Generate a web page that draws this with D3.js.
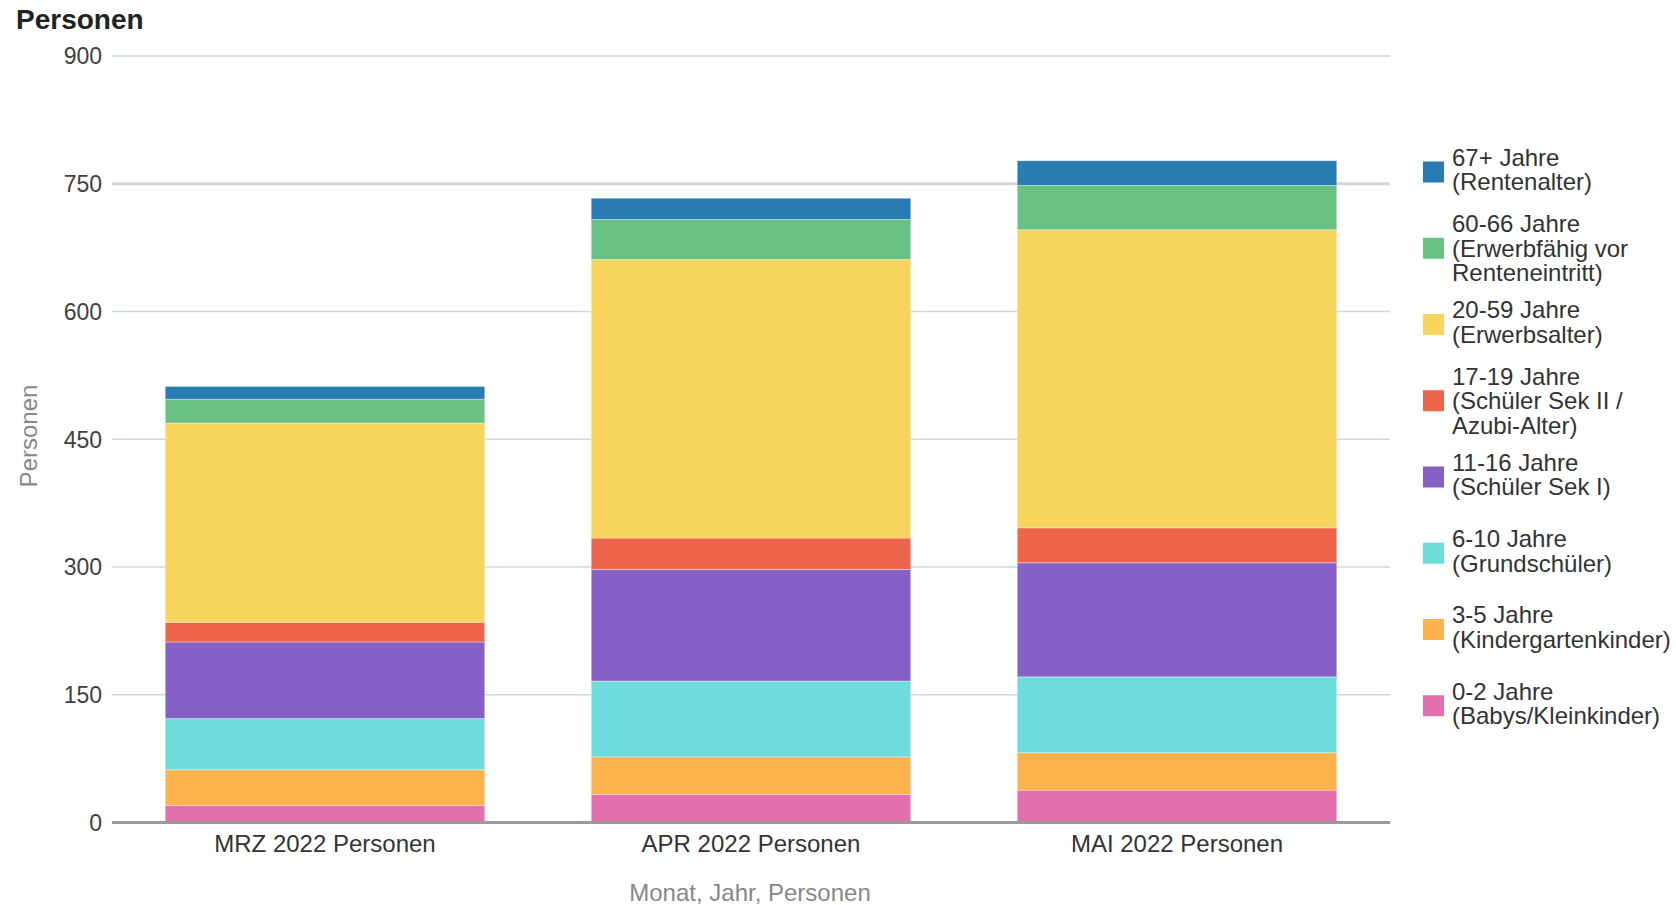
<!DOCTYPE html>
<html>
<head>
<meta charset="utf-8">
<script src="https://d3js.org/d3.v7.min.js"></script>
<style>
  body { margin: 0; background: #fff; }
  svg { font-family: "Liberation Sans", Arial, sans-serif; }
</style>
</head>
<body>
<svg id="chart" width="1676" height="905"></svg>
<script>
// data
var months = ["MRZ 2022 Personen", "APR 2022 Personen", "MAI 2022 Personen"]
var groups = ["0-2", "3-5", "6-10", "11-16", "17-19", "20-59", "60-66", "67+"]
var babys    = [20, 33, 38]
var kita     = [42, 44, 44]
var grund    = [60, 89, 89]
var sek1     = [90, 131, 134]
var sek2     = [23, 37, 41]
var erwerb   = [234, 327, 350]
var vorRente = [28, 47, 52]
var rente    = [15, 25, 29]
var yTicks = [0, 150, 300, 450, 600, 750, 900]
var referenceValue = 750

var legendLabels = [
  ["67+ Jahre", "(Rentenalter)"],
  ["60-66 Jahre", "(Erwerbfähig vor", "Renteneintritt)"],
  ["20-59 Jahre", "(Erwerbsalter)"],
  ["17-19 Jahre", "(Schüler Sek II /", "Azubi-Alter)"],
  ["11-16 Jahre", "(Schüler Sek I)"],
  ["6-10 Jahre", "(Grundschüler)"],
  ["3-5 Jahre", "(Kindergartenkinder)"],
  ["0-2 Jahre", "(Babys/Kleinkinder)"]
]

var colors = {
  "0-2": "#e26fb0", "3-5": "#fdb24e", "6-10": "#6edcdc", "11-16": "#8661c5",
  "17-19": "#ec654a", "20-59": "#f7d55c", "60-66": "#69c184", "67+": "#287cb1"
}

var series = [babys, kita, grund, sek1, sek2, erwerb, vorRente, rente]
var data = months.map(function(m, i) {
  var row = { month: m }
  groups.forEach(function(g, j) { row[g] = series[j][i] })
  return row
})

var svg = d3.select("#chart")
var plotLeft = 112, plotRight = 1390, plotTop = 56, plotBottom = 822.5

var x = d3.scaleBand().domain(months).range([plotLeft, plotRight])
  .paddingInner(0.25).paddingOuter(0.125)
var y = d3.scaleLinear().domain([0, 900]).range([plotBottom, plotTop])

// gridlines
svg.append("g").selectAll("line")
  .data(yTicks.filter(function(t) { return t > 0 }))
  .enter().append("line")
  .attr("x1", plotLeft).attr("x2", plotRight)
  .attr("y1", function(d) { return y(d) }).attr("y2", function(d) { return y(d) })
  .attr("stroke", "#cfd7e0")
  .attr("stroke-width", function(d) { return d === referenceValue ? 3 : 1.5 })

// tick labels
svg.append("g").selectAll("text")
  .data(yTicks).enter().append("text")
  .attr("x", 102).attr("y", function(d) { return y(d) })
  .attr("dy", "0.36em")
  .attr("text-anchor", "end")
  .attr("font-size", 23)
  .attr("fill", "#404040")
  .text(function(d) { return d })

// stacked bars
var stack = d3.stack().keys(groups)(data)
svg.append("g").selectAll("g")
  .data(stack).enter().append("g")
  .attr("fill", function(d) { return colors[d.key] })
  .selectAll("rect")
  .data(function(d) { return d }).enter().append("rect")
  .attr("x", function(d) { return x(d.data.month) })
  .attr("width", x.bandwidth())
  .attr("y", function(d) { return y(d[1]) })
  .attr("height", function(d) { return y(d[0]) - y(d[1]) })
  .attr("stroke", "#fff")
  .attr("stroke-opacity", 0.35)
  .attr("stroke-width", 1)

// baseline
svg.append("line")
  .attr("x1", plotLeft).attr("x2", plotRight)
  .attr("y1", y(0)).attr("y2", y(0))
  .attr("stroke", "#9a9a9a").attr("stroke-width", 3)

// category labels
svg.append("g").selectAll("text")
  .data(months).enter().append("text")
  .attr("x", function(d) { return x(d) + x.bandwidth() / 2 })
  .attr("y", 852)
  .attr("text-anchor", "middle")
  .attr("font-size", 24)
  .attr("fill", "#333")
  .text(function(d) { return d })

// axis titles
svg.append("text")
  .attr("x", (plotLeft + plotRight) / 2 - 1).attr("y", 901)
  .attr("text-anchor", "middle")
  .attr("font-size", 24).attr("fill", "#888")
  .text("Monat, Jahr, Personen")

svg.append("text")
  .attr("transform", "translate(28,436) rotate(-90)")
  .attr("dy", "0.36em")
  .attr("text-anchor", "middle")
  .attr("font-size", 24).attr("fill", "#888")
  .text("Personen")

svg.append("text")
  .attr("x", 16).attr("y", 29)
  .attr("font-size", 28).attr("font-weight", "bold")
  .attr("fill", "#222")
  .text("Personen")

// legend
var legendKeys = groups.slice().reverse()
var item = svg.append("g").selectAll("g")
  .data(legendKeys).enter().append("g")
  .attr("transform", function(d, i) { return "translate(1423," + (172 + i * 76.25) + ")" })

item.append("rect")
  .attr("x", 0).attr("y", -10.5)
  .attr("width", 21).attr("height", 21)
  .attr("fill", function(d) { return colors[d] })

item.each(function(d, i) {
  var lines = legendLabels[i]
  var t = d3.select(this).append("text")
    .attr("font-size", 24).attr("fill", "#333")
  lines.forEach(function(l, k) {
    t.append("tspan")
      .attr("x", 29)
      .attr("y", (k - (lines.length - 1) / 2) * 24.5 - (lines.length === 2 ? 2.5 : 0))
      .attr("dy", "0.36em")
      .text(l)
  })
})
</script>
</body>
</html>
